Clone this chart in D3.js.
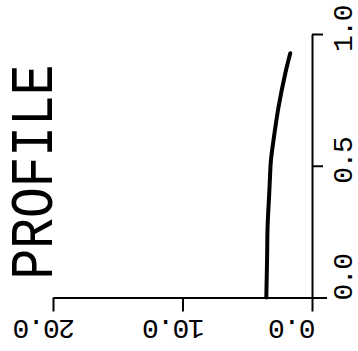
<!DOCTYPE html>
<html>
<head>
<meta charset="utf-8">
<script src="https://cdn.jsdelivr.net/npm/d3@7"></script>
<style>
  body { margin: 0; background: #fff; }
  text { font-family: 'Liberation Mono', 'DejaVu Sans Mono', monospace; fill: #000; }
</style>
</head>
<body>
<div class="chart"></div>
<script>
// profile along the normalised position (0..1)
const positions = [0, 0.142, 0.269, 0.397, 0.484, 0.522, 0.598, 0.724, 0.851, 0.927]
const profile = [3.53, 3.47, 3.43, 3.30, 3.22, 3.17, 2.97, 2.58, 2.06, 1.68]

const posTicks = [0, 0.5, 1.0]
const posTickLabels = ['0.0', '0.5', '1.0']
const valTicks = [0, 10, 20]
const valTickLabels = ['0.0', '10.0', '20.0']
const title = 'PROFILE'

const fullWidth = 358
const fullHeight = 351
const margin = { top: 34, right: 46, bottom: 53.5, left: 53 }
const width = fullWidth - margin.left - margin.right
const height = fullHeight - margin.top - margin.bottom

const svg = d3.select('.chart')
    .append('svg')
    .attr('width', fullWidth)
    .attr('height', fullHeight)

const g = svg.append('g')
    .attr('transform', `translate(${margin.left}, ${margin.top})`)

// plot is drawn turned on its side: position runs upward, value runs leftward
const posScale = d3.scaleLinear().domain([0, 1]).range([height, 0])
const valScale = d3.scaleLinear().domain([0, 20]).range([width, 0])

const posAxis = d3.axisRight(posScale)
    .tickValues(posTicks)
    .tickSize(11)
    .tickSizeOuter(0)
    .tickFormat('')
const gPos = g.append('g')
    .attr('transform', `translate(${width}, 0)`)
    .call(posAxis)

const valAxis = d3.axisBottom(valScale)
    .tickValues(valTicks)
    .tickSize(14)
    .tickSizeOuter(0)
    .tickFormat('')
const gVal = g.append('g')
    .attr('transform', `translate(0, ${height})`)
    .call(valAxis)

g.selectAll('.domain').style('stroke', '#000').style('stroke-width', 2)
g.selectAll('.tick line').style('stroke', '#000').style('stroke-width', 2)

// zero tick on the position axis is a little longer
gPos.selectAll('.tick line').filter(d => d === 0).attr('x2', 15)

// tick labels, rotated like the rest of the page
g.selectAll('.pos-label')
    .data(posTicks)
    .enter().append('text')
    .attr('class', 'pos-label')
    .attr('text-anchor', 'middle')
    .style('font-size', '28px')
    .style('letter-spacing', '-1.5px')
    .attr('transform', (d, i) => `translate(${width + 40}, ${posScale(d) - 5 - (d === 0 ? 15 : 0)}) rotate(-90)`)
    .text((d, i) => posTickLabels[i])

g.selectAll('.val-label')
    .data(valTicks)
    .enter().append('text')
    .attr('class', 'val-label')
    .attr('text-anchor', 'middle')
    .style('font-size', '28px')
    .style('letter-spacing', '-1.5px')
    .attr('transform', (d, i) => `translate(${valScale(d) - 8.5 - (d === 0 ? 11 : 0)}, ${height + 22}) rotate(180)`)
    .text((d, i) => valTickLabels[i])

// title
svg.append('text')
    .attr('text-anchor', 'middle')
    .style('font-size', '62px')
    .attr('textLength', 215)
    .attr('lengthAdjust', 'spacingAndGlyphs')
    .attr('transform', 'translate(52, 172) rotate(-90)')
    .text(title)

// the profile curve
const line = d3.line()
    .x((d, i) => valScale(profile[i]))
    .y(d => posScale(d))
    .curve(d3.curveCatmullRom)

g.append('path')
    .datum(positions)
    .attr('d', line)
    .style('fill', 'none')
    .style('stroke', '#000')
    .style('stroke-width', 4)
    .style('stroke-linecap', 'round')
</script>
</body>
</html>
